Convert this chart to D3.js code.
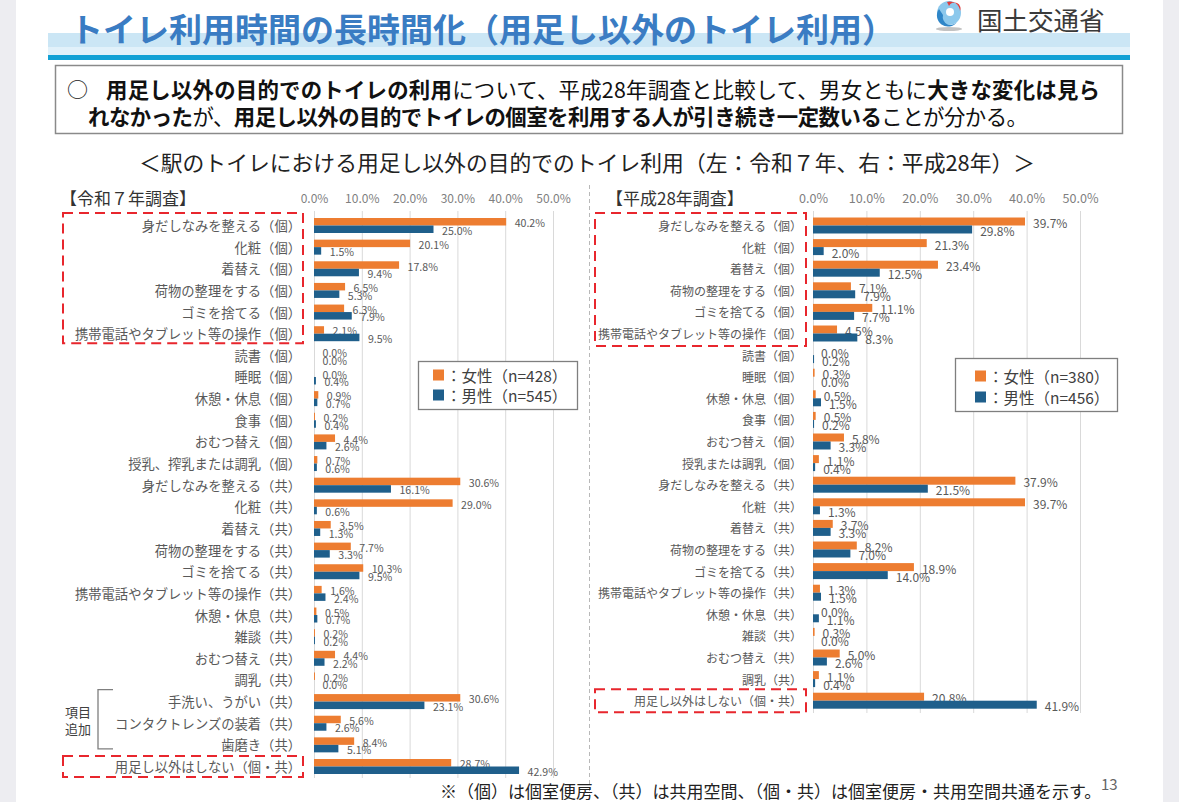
<!DOCTYPE html>
<html><head><meta charset="utf-8">
<script src="https://cdn.jsdelivr.net/npm/d3@7"></script>
<style>
body{margin:0;background:#fff;overflow:hidden}
svg{display:block}
text{font-family:"Noto Sans CJK JP","Noto Sans",sans-serif}
</style>
</head><body>
<svg id="c" width="1179" height="802"></svg>
<script>
// ---------- data ----------
const catsR7 = [
 "身だしなみを整える（個）","化粧（個）","着替え（個）","荷物の整理をする（個）","ゴミを捨てる（個）",
 "携帯電話やタブレット等の操作（個）","読書（個）","睡眠（個）","休憩・休息（個）","食事（個）",
 "おむつ替え（個）","授乳、搾乳または調乳（個）","身だしなみを整える（共）","化粧（共）","着替え（共）",
 "荷物の整理をする（共）","ゴミを捨てる（共）","携帯電話やタブレット等の操作（共）","休憩・休息（共）","雑談（共）",
 "おむつ替え（共）","調乳（共）","手洗い、うがい（共）","コンタクトレンズの装着（共）","歯磨き（共）",
 "用足し以外はしない（個・共）"
];
const femaleR7 = [40.2,20.1,17.8,6.5,6.3,2.1,0.0,0.0,0.9,0.2,4.4,0.7,30.6,29.0,3.5,7.7,10.3,1.6,0.5,0.2,4.4,0.2,30.6,5.6,8.4,28.7];
const maleR7   = [25.0,1.5,9.4,5.3,7.9,9.5,0.0,0.4,0.7,0.4,2.6,0.6,16.1,0.6,1.3,3.3,9.5,2.4,0.7,0.2,2.2,0.0,23.1,2.6,5.1,42.9];

const catsH28 = [
 "身だしなみを整える（個）","化粧（個）","着替え（個）","荷物の整理をする（個）","ゴミを捨てる（個）",
 "携帯電話やタブレット等の操作（個）","読書（個）","睡眠（個）","休憩・休息（個）","食事（個）",
 "おむつ替え（個）","授乳または調乳（個）","身だしなみを整える（共）","化粧（共）","着替え（共）",
 "荷物の整理をする（共）","ゴミを捨てる（共）","携帯電話やタブレット等の操作（共）","休憩・休息（共）","雑談（共）",
 "おむつ替え（共）","調乳（共）","用足し以外はしない（個・共）"
];
const femaleH28 = [39.7,21.3,23.4,7.1,11.1,4.5,0.0,0.3,0.5,0.5,5.8,1.1,37.9,39.7,3.7,8.2,18.9,1.3,0.0,0.3,5.0,1.1,20.8];
const maleH28   = [29.8,2.0,12.5,7.9,7.7,8.3,0.2,0.0,1.5,0.2,3.3,0.4,21.5,1.3,3.3,7.0,14.0,1.5,1.1,0.0,2.6,0.4,41.9];

const tickValues = [0,10,20,30,40,50];
const legendR7  = ["：女性（n=428）","：男性（n=545）"];
const legendH28 = ["：女性（n=380）","：男性（n=456）"];
const seriesKeys = ["female","male"];

// ---------- styles ----------
const FONT = '"Noto Sans CJK JP","Noto Sans",sans-serif';
const ORANGE = "#ed7d31", BLUE = "#1f5f8b";
const svg = d3.select("#c");

// side strips
svg.append("rect").attr("x",0).attr("y",0).attr("width",16).attr("height",802).attr("fill","#ededf1");
svg.append("rect").attr("x",1163).attr("y",0).attr("width",16).attr("height",802).attr("fill","#ededf1");

// title band
svg.append("rect").attr("x",48).attr("y",33).attr("width",1082).attr("height",14).attr("fill","#cbe6f5");
svg.append("rect").attr("x",48).attr("y",47).attr("width",1082).attr("height",8).attr("fill","#e1f1fa");
svg.append("rect").attr("x",48).attr("y",55).attr("width",1082).attr("height",5).attr("fill","#12a1d5");

svg.append("text").attr("x",70).attr("y",28).attr("dominant-baseline","central")
  .attr("font-size",33).attr("font-weight","bold").attr("fill","#3a7cc3")
  .text("トイレ利用時間の長時間化（用足し以外のトイレ利用）");

// logo
const lg = svg.append("g").attr("transform","translate(949,13)");
lg.append("ellipse").attr("cx",0).attr("cy",16).attr("rx",13).attr("ry",2).attr("fill","#9a9a9a").attr("opacity",0.6);
lg.append("circle").attr("r",12).attr("fill","#8cc8ec");
lg.append("path").attr("d","M-10,-4 A11,11 0 0,0 8,9 A8,8 0 0,1 -6,2 Z").attr("fill","#2f86c8");
lg.append("path").attr("d","M-2,-11 A10,10 0 0,1 11,-2 A6,6 0 0,0 0,-7 Z").attr("fill","#e23b3b");
lg.append("circle").attr("cx",1).attr("cy",-1).attr("r",4).attr("fill","#fff");
svg.append("text").attr("x",977).attr("y",18).attr("dominant-baseline","central")
  .attr("font-size",25.5).attr("fill","#3a3a3a").text("国土交通省");

// summary box
svg.append("rect").attr("x",55.5).attr("y",65.5).attr("width",1067).attr("height",68)
  .attr("fill","#fff").attr("stroke","#8a8a8a").attr("stroke-width",1.5);
svg.append("text").attr("x",67).attr("y",88).attr("dominant-baseline","central")
  .attr("font-size",21).attr("fill","#222").text("○");
function richLine(x,y,len,parts){
  const t = svg.append("text").attr("x",x).attr("y",y).attr("dominant-baseline","central")
    .attr("font-size",21.4).attr("fill","#111")
    .attr("textLength",len).attr("lengthAdjust","spacing");
  parts.forEach(p=>t.append("tspan").attr("font-weight",p[1]?"bold":"normal").text(p[0]));
}
richLine(106,88,994,[["用足し以外の目的でのトイレの利用",1],["について、平成28年調査と比較して、男女ともに",0],["大きな変化は見ら",1]]);
richLine(88,115,940,[["れなかった",1],["が、",0],["用足し以外の目的でトイレの個室を利用する人が引き続き一定数いる",1],["ことが分かる。",0]]);

svg.append("text").attr("x",587).attr("y",161).attr("dominant-baseline","central").attr("text-anchor","middle")
  .attr("font-size",21.8).attr("fill","#222")
  .text("＜駅のトイレにおける用足し以外の目的でのトイレ利用（左：令和７年、右：平成28年）＞");

// divider
svg.append("line").attr("x1",589.5).attr("x2",589.5).attr("y1",185).attr("y2",796)
  .attr("stroke","#b8b8b8").attr("stroke-dasharray","4,3");

// ---------- charts ----------
function drawChart(o){
  const g = svg.append("g");
  const n = o.cats.length;
  const y = d3.scaleBand().domain(o.cats)
    .range([o.c0 - o.step/2, o.c0 - o.step/2 + o.step*n])
    .paddingInner(o.pad).paddingOuter(o.pad/2);
  const sub = d3.scaleBand().domain(seriesKeys).range([0,y.bandwidth()]);
  const x = d3.scaleLinear().domain([0,50]).range([o.x0,o.x1]);
  const yc = c => y(c) + y.bandwidth()/2;

  // gridlines
  g.append("g").selectAll("line").data(tickValues).join("line")
    .attr("x1",d=>x(d)+0.5).attr("x2",d=>x(d)+0.5)
    .attr("y1",o.gridTop).attr("y2",o.gridBottom)
    .attr("stroke","#d9d9d9").attr("stroke-width",1);

  // top tick labels
  const ax = g.append("g").attr("transform",`translate(0,${o.tickY})`)
    .call(d3.axisTop(x).tickValues(tickValues).tickSize(0).tickPadding(0).tickFormat(d=>d3.format(".1f")(d)+"%"));
  ax.select(".domain").remove();
  ax.attr("font-family",FONT).attr("font-size",o.tickSize).attr("color","#7f7f7f");
  ax.selectAll("text").attr("dy",null).attr("dominant-baseline","central");

  // category labels
  const ay = g.append("g").attr("transform",`translate(${o.labelRight},0)`)
    .call(d3.axisLeft(y).tickSize(0).tickPadding(0));
  ay.select(".domain").remove();
  ay.attr("font-family",FONT).attr("font-size",o.labelSize).attr("color","#595959");
  ay.selectAll("text").attr("dy",null).attr("dominant-baseline","central");

  const rows = o.cats.map((c,i)=>({c, female:o.fem[i], male:o.male[i]}));
  const colors = {female:ORANGE, male:BLUE};
  seriesKeys.forEach(k=>{
    g.append("g").selectAll("rect").data(rows).join("rect")
      .attr("x",x(0)).attr("y",d=>y(d.c)+sub(k))
      .attr("width",d=>x(d[k])-x(0)).attr("height",sub.bandwidth())
      .attr("fill",colors[k]);
    g.append("g").selectAll("text").data(rows).join("text")
      .attr("x",d=>x(d[k])+o.valOff).attr("y",d=>y(d.c)+sub(k)+sub.bandwidth()/2+1)
      .attr("dominant-baseline","central").attr("font-size",o.valSize).attr("fill","#595959")
      .text(d=>d3.format(".1f")(d[k])+"%");
  });

  // header
  svg.append("text").attr("x",o.headX).attr("y",197).attr("dominant-baseline","central")
    .attr("font-size",17).attr("fill","#333").text(o.head);

  // red dashed boxes
  o.boxes.forEach(b=>{
    const top = yc(o.cats[b[0]]) + b[2], bot = yc(o.cats[b[1]]) + b[3];
    svg.append("rect").attr("x",o.boxX0).attr("y",top).attr("width",o.boxX1-o.boxX0).attr("height",bot-top)
      .attr("fill","none").attr("stroke","#e8262d").attr("stroke-width",2).attr("stroke-dasharray","10,6");
  });

  // legend
  const L = o.legend;
  svg.append("rect").attr("x",L.x+0.5).attr("y",L.y+0.5).attr("width",L.w).attr("height",L.h)
    .attr("fill","#fff").attr("stroke","#7f7f7f").attr("stroke-width",1.3);
  o.legendLabels.forEach((t,i)=>{
    const cy = L.rows[i];
    svg.append("rect").attr("x",L.sx).attr("y",cy-5.5).attr("width",11).attr("height",11)
      .attr("fill", i===0?ORANGE:BLUE);
    svg.append("text").attr("x",L.sx+13).attr("y",cy).attr("dominant-baseline","central")
      .attr("font-size",15.5).attr("fill","#404040").text(t);
  });
  return {y, yc};
}

const left = drawChart({
  cats:catsR7, fem:femaleR7, male:maleR7,
  x0:314, x1:553, c0:225.5, step:21.64, pad:0.307,
  labelRight:301, labelSize:13.3, valSize:10.6, valOff:8.5, tickSize:12, tickY:197,
  gridTop:211, gridBottom:778, head:"【令和７年調査】", headX:60,
  boxX0:63, boxX1:303, boxes:[[0,5,-12.5,9.5],[25,25,-10.5,10.5]],
  legend:{x:418,y:361,w:159,h:48,sx:433,rows:[375,395]}, legendLabels:legendR7
});
const right = drawChart({
  cats:catsH28, fem:femaleH28, male:maleH28,
  x0:813, x1:1080, c0:225.5, step:21.6, pad:0.26,
  labelRight:802, labelSize:12, valSize:12, valOff:8, tickSize:12.6, tickY:197,
  gridTop:211, gridBottom:713, head:"【平成28年調査】", headX:606,
  boxX0:595, boxX1:806, boxes:[[0,5,-12.5,12.5],[22,22,-11.5,11.5]],
  legend:{x:955,y:358,w:162,h:53,sx:975,rows:[376,397]}, legendLabels:legendH28
});

// bracket for added items (left)
{
  const t = left.yc(catsR7[22]) - 12, b = left.yc(catsR7[24]) + 4;
  svg.append("path").attr("d",`M113,${t}H98V${b}H113`).attr("fill","none").attr("stroke","#7f7f7f").attr("stroke-width",1.3);
  svg.append("text").attr("x",65).attr("y",711).attr("dominant-baseline","central").attr("font-size",13).attr("fill","#404040").text("項目");
  svg.append("text").attr("x",65).attr("y",728).attr("dominant-baseline","central").attr("font-size",13).attr("fill","#404040").text("追加");
}

// footer
svg.append("text").attr("x",440).attr("y",790).attr("dominant-baseline","central")
  .attr("font-size",17).attr("fill","#222")
  .text("※（個）は個室便房、（共）は共用空間、（個・共）は個室便房・共用空間共通を示す。");
svg.append("text").attr("x",1101).attr("y",783).attr("dominant-baseline","central")
  .attr("font-size",15).attr("fill","#666").text("13");
</script>
</body></html>
